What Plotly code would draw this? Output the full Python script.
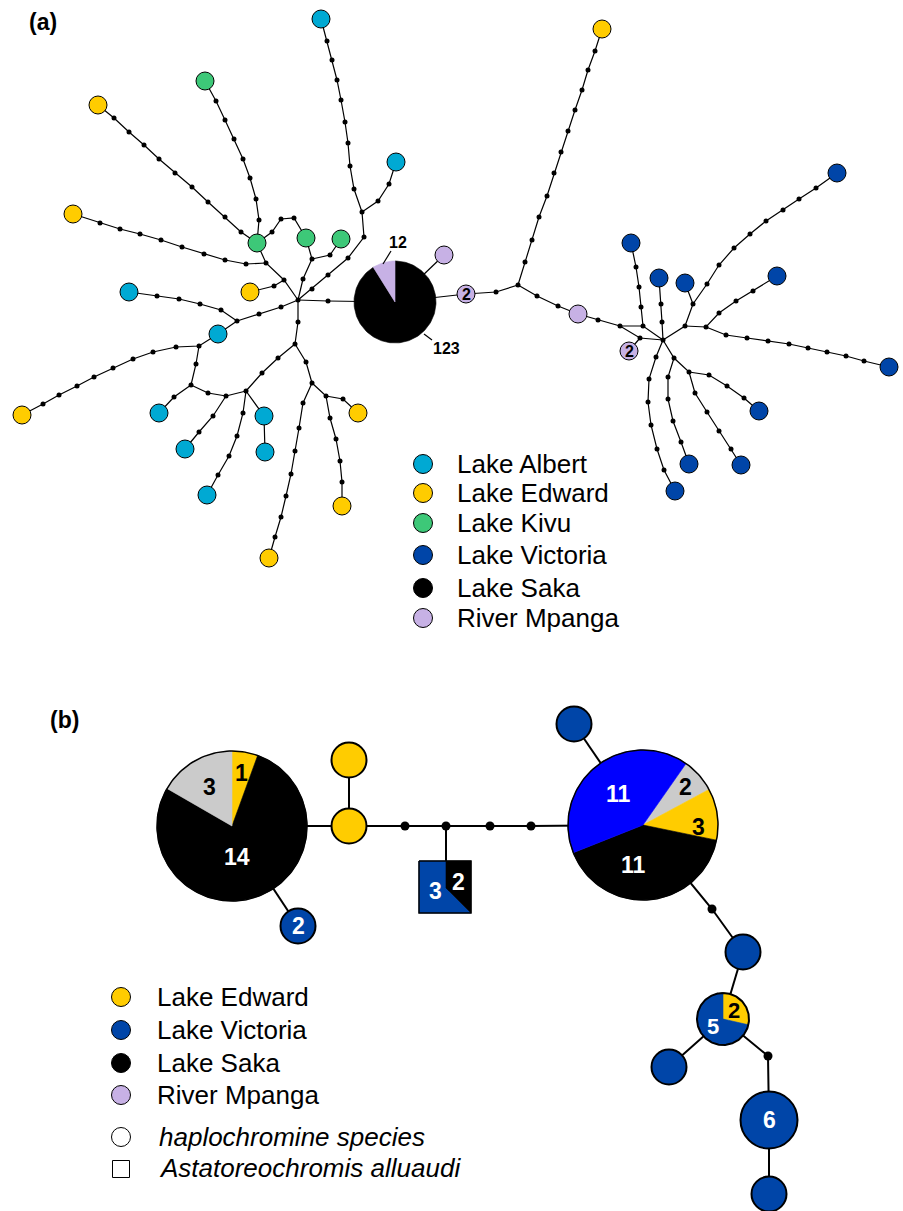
import numpy as np
import plotly.graph_objects as go

W, H = 903, 1211
FONT = "Liberation Sans, Arial, sans-serif"

COLORS = {"albert": "#00A9D3", "edward": "#FFCC00", "kivu": "#3DC878",
          "victoria": "#0045A8", "saka": "#000000", "mpanga": "#C7B1E5",
          "blue": "#0000FF", "grey": "#CBCBCB"}

# ---------------- Panel (a): haplotype network (layout positions) ----------------
a_albert = [(321, 19), (396, 162), (129, 292), (218, 334), (159, 413), (185, 449),
            (207, 495), (264, 416), (265, 452)]
a_edward = [(602, 29), (98, 105), (73, 214), (250, 292), (22, 415), (358, 413),
            (342, 506), (269, 558)]
a_kivu = [(205, 81), (257, 243), (306, 238), (341, 239)]
a_victoria = [(631, 243), (659, 278), (685, 283), (837, 173), (777, 276), (889, 367),
              (759, 411), (741, 465), (689, 464), (675, 491)]
a_mpanga = [(444, 255), (578, 314)]
a_mpanga_n2 = [(466, 294), (629, 351)]
a_mpanga_n2_labels = ["2", "2"]

a_pie_center = (395, 302)
a_pie_groups = ["saka", "mpanga"]
a_pie_counts = [123, 12]

a_paths = [
    [(321, 19), (327, 41), (332, 60), (337, 80), (341, 100), (345, 122), (348, 143), (350, 166), (354, 189), (362, 212)],
    [(396, 162), (389, 184), (378, 201), (362, 212)],
    [(362, 212), (364, 237), (348, 258), (328, 275), (312, 289), (298, 300)],
    [(341, 239), (330, 255), (312, 259)],
    [(306, 238), (312, 259)],
    [(312, 259), (303, 279), (298, 300)],
    [(205, 81), (216, 101), (225, 120), (234, 139), (243, 159), (250, 178), (256, 199), (259, 220), (257, 243)],
    [(98, 105), (114, 118), (129, 132), (144, 145), (159, 159), (175, 173), (192, 187), (208, 202), (225, 217), (241, 232), (257, 243)],
    [(257, 243), (272, 232), (281, 219), (294, 218), (306, 238)],
    [(257, 243), (266, 263), (284, 280), (298, 300)],
    [(73, 214), (100, 223), (120, 229), (140, 234), (161, 240), (182, 247), (204, 254), (225, 260), (246, 264), (266, 263)],
    [(250, 292), (274, 286), (284, 280)],
    [(129, 292), (157, 296), (179, 299), (200, 304), (221, 310), (237, 321)],
    [(237, 321), (218, 334)],
    [(237, 321), (259, 314), (281, 307), (298, 300)],
    [(298, 300), (328, 301), (395, 302)],
    [(395, 302), (444, 255)],
    [(395, 302), (466, 294)],
    [(466, 294), (496, 292), (518, 285)],
    [(602, 29), (595, 51), (588, 70), (582, 90), (575, 110), (568, 131), (561, 152), (554, 173), (547, 196), (539, 217), (532, 240), (525, 262), (518, 285)],
    [(518, 285), (537, 296), (558, 306), (578, 314)],
    [(578, 314), (598, 320), (620, 326), (640, 338), (663, 340)],
    [(620, 326), (643, 326), (663, 340)],
    [(629, 351), (640, 338)],
    [(631, 243), (636, 267), (639, 287), (641, 307), (643, 326)],
    [(659, 278), (661, 304), (662, 322), (663, 340)],
    [(837, 173), (816, 188), (799, 199), (783, 210), (766, 221), (750, 234), (734, 248), (719, 265), (707, 284), (693, 304), (685, 326), (663, 340)],
    [(685, 283), (693, 304)],
    [(777, 276), (753, 291), (736, 301), (719, 313), (706, 327), (685, 326)],
    [(706, 327), (726, 335), (747, 338), (768, 341), (789, 344), (808, 348), (827, 352), (846, 356), (864, 361), (889, 367)],
    [(663, 340), (656, 357), (649, 379), (648, 402), (651, 425), (657, 449), (664, 470), (675, 491)],
    [(663, 340), (674, 358), (689, 372), (709, 375), (727, 386), (744, 398), (759, 411)],
    [(689, 372), (695, 393), (707, 412), (719, 431), (731, 449), (741, 465)],
    [(674, 358), (668, 377), (668, 399), (673, 421), (681, 442), (689, 464)],
    [(218, 334), (199, 346), (176, 347), (153, 352), (133, 359), (113, 368), (94, 377), (77, 386), (59, 395), (43, 404), (22, 415)],
    [(199, 346), (196, 364), (191, 385)],
    [(191, 385), (174, 397), (159, 413)],
    [(191, 385), (208, 393), (226, 396), (246, 391)],
    [(298, 300), (298, 322), (295, 344)],
    [(295, 344), (278, 358), (262, 373), (246, 391)],
    [(246, 391), (264, 416), (265, 452)],
    [(246, 391), (243, 413), (237, 436), (229, 456), (218, 475), (207, 495)],
    [(226, 396), (213, 416), (199, 432), (185, 449)],
    [(295, 344), (306, 362), (312, 383)],
    [(312, 383), (303, 403), (299, 428), (295, 451), (291, 474), (286, 496), (281, 517), (275, 537), (269, 558)],
    [(312, 383), (326, 396), (343, 399), (358, 413)],
    [(326, 396), (330, 418), (336, 439), (340, 461), (342, 482), (342, 506)],
]

a_legend_labels = ["Lake Albert", "Lake Edward", "Lake Kivu", "Lake Victoria", "Lake Saka", "River Mpanga"]
a_legend_groups = ["albert", "edward", "kivu", "victoria", "saka", "mpanga"]

# ---------------- Panel (b) ----------------
b_edward = [(349, 760), (349, 826)]
b_victoria = [(574, 724), (743, 952), (669, 1067), (769, 1194)]
b_victoria_counted = [(298, 926), (769, 1120)]
b_victoria_counts = ["2", "6"]

b_pie_left_center = (232, 826)
b_pie_left_groups = ["edward", "saka", "grey"]
b_pie_left_counts = [1, 14, 3]

b_pie_right_center = (643, 825)
b_pie_right_groups = ["grey", "edward", "saka", "blue"]
b_pie_right_counts = [2, 3, 11, 11]

b_pie_small_center = (723, 1019)
b_pie_small_groups = ["edward", "victoria"]
b_pie_small_counts = [2, 5]

b_square_center = (445, 887)
b_square_groups = ["victoria", "saka"]
b_square_counts = [3, 2]

b_paths = [
    [(232, 826), (349, 826)],
    [(349, 826), (349, 760)],
    [(349, 826), (405, 826), (446, 826), (490, 826), (531, 826), (643, 825)],
    [(446, 826), (446, 887)],
    [(232, 826), (298, 926)],
    [(643, 825), (574, 724)],
    [(643, 825), (712, 909), (743, 952)],
    [(743, 952), (723, 1019)],
    [(723, 1019), (669, 1067)],
    [(723, 1019), (768, 1056), (769, 1120)],
    [(769, 1120), (769, 1194)],
]

b_legend_labels = ["Lake Edward", "Lake Victoria", "Lake Saka", "River Mpanga"]
b_legend_groups = ["edward", "victoria", "saka", "mpanga"]
b_legend_shape_labels = ["<i>haplochromine species</i>", "<i>Astatoreochromis alluaudi</i>"]

# ------------------------------------------------------------------
fig = go.Figure()
annotations = []


def add_paths(paths, width):
    xs, ys = [], []
    for p in paths:
        for (x, y) in p:
            xs.append(x)
            ys.append(y)
        xs.append(None)
        ys.append(None)
    fig.add_trace(go.Scatter(x=xs, y=ys, mode="lines", hoverinfo="skip",
                             line=dict(color="black", width=width)))


def add_dots(paths, node_set, size):
    seen, xs, ys = set(), [], []
    for p in paths:
        for pt in p:
            if pt in node_set or pt in seen:
                continue
            seen.add(pt)
            xs.append(pt[0])
            ys.append(pt[1])
    fig.add_trace(go.Scatter(x=xs, y=ys, mode="markers", hoverinfo="skip",
                             marker=dict(color="black", size=size, line=dict(width=0))))


def add_nodes(pts, color, size, lw):
    fig.add_trace(go.Scatter(x=[p[0] for p in pts], y=[p[1] for p in pts], mode="markers",
                             hoverinfo="skip",
                             marker=dict(color=color, size=size, line=dict(color="black", width=lw))))


def arc(cx, cy, r, a0, a1):
    n = max(int(abs(a1 - a0) / 2) + 2, 4)
    t = np.radians(np.linspace(a0, a1, n))
    return cx + r * np.sin(t), cy - r * np.cos(t)


def add_pie(center, r, counts, groups, start, outline):
    cx, cy = center
    total = float(sum(counts))
    a = start
    mids = []
    for c, g in zip(counts, groups):
        span = 360.0 * c / total
        ax, ay = arc(cx, cy, r, a, a + span)
        xs = [cx] + list(ax) + [cx]
        ys = [cy] + list(ay) + [cy]
        fig.add_trace(go.Scatter(x=xs, y=ys, mode="lines", fill="toself", hoverinfo="skip",
                                 fillcolor=COLORS[g], line=dict(color=COLORS[g], width=0.6)))
        mids.append(a + span / 2)
        a += span
    if outline > 0:
        ox, oy = arc(cx, cy, r, 0, 360)
        fig.add_trace(go.Scatter(x=list(ox), y=list(oy), mode="lines", hoverinfo="skip",
                                 line=dict(color="black", width=outline)))
    return mids


def label(x, y, text, size, color="black", bold=True, anchor="center"):
    t = "<b>%s</b>" % text if bold else text
    annotations.append(dict(x=x, y=y, xref="x", yref="y", text=t, showarrow=False,
                            xanchor=anchor, yanchor="middle",
                            font=dict(family=FONT, size=size, color=color)))


# ---- panel (a) ----
a_node_set = set(a_albert + a_edward + a_kivu + a_victoria + a_mpanga + a_mpanga_n2 + [a_pie_center])
add_paths(a_paths, 1.2)
add_dots(a_paths, a_node_set, 5)
add_nodes(a_albert, COLORS["albert"], 18, 1)
add_nodes(a_edward, COLORS["edward"], 18, 1)
add_nodes(a_kivu, COLORS["kivu"], 18, 1)
add_nodes(a_victoria, COLORS["victoria"], 18, 1)
add_nodes(a_mpanga, COLORS["mpanga"], 18, 1)
add_nodes(a_mpanga_n2, COLORS["mpanga"], 18, 1)
for (x, y), t in zip(a_mpanga_n2, a_mpanga_n2_labels):
    label(x, y + 0.5, t, 16)

add_pie(a_pie_center, 41, a_pie_counts, a_pie_groups, 0, 0)
# count labels with leader lines
fig.add_trace(go.Scatter(x=[383, 391, None, 424, 432], y=[264, 251, None, 334, 340], mode="lines",
                         hoverinfo="skip", line=dict(color="black", width=1.2)))
label(398, 242, str(a_pie_counts[1]), 16)
label(446, 348, str(a_pie_counts[0]), 16)

label(43, 22, "(a)", 23)

a_leg_y = [464, 493, 523, 555, 588, 618]
for g, t, y in zip(a_legend_groups, a_legend_labels, a_leg_y):
    add_nodes([(423, y)], COLORS[g], 19, 1)
    label(455, y, t, 26, bold=False, anchor="left")

# ---- panel (b) ----
b_node_set = set(b_edward + b_victoria + b_victoria_counted +
                 [b_pie_left_center, b_pie_right_center, b_pie_small_center, b_square_center])
add_paths(b_paths, 2)
add_dots(b_paths, b_node_set, 9)

# square node (Astatoreochromis alluaudi), split by haplotype share
sx, sy = b_square_center
hs = 26
sq_blue_x = [sx - hs, sx + 1, sx + 1, sx + hs, sx - hs, sx - hs]
sq_blue_y = [sy - hs, sy - hs, sy + 1, sy + hs, sy + hs, sy - hs]
sq_black_x = [sx + 1, sx + hs, sx + hs, sx + 1, sx + 1]
sq_black_y = [sy - hs, sy - hs, sy + hs, sy + 1, sy - hs]
fig.add_trace(go.Scatter(x=sq_blue_x, y=sq_blue_y, mode="lines", fill="toself", hoverinfo="skip",
                         fillcolor=COLORS[b_square_groups[0]], line=dict(color=COLORS[b_square_groups[0]], width=0.6)))
fig.add_trace(go.Scatter(x=sq_black_x, y=sq_black_y, mode="lines", fill="toself", hoverinfo="skip",
                         fillcolor=COLORS[b_square_groups[1]], line=dict(color=COLORS[b_square_groups[1]], width=0.6)))
fig.add_trace(go.Scatter(x=[sx - hs, sx + hs, sx + hs, sx - hs, sx - hs],
                         y=[sy - hs, sy - hs, sy + hs, sy + hs, sy - hs], mode="lines", hoverinfo="skip",
                         line=dict(color="black", width=1.5)))
label(sx - 10, sy + 4, str(b_square_counts[0]), 23, color="white")
label(sx + 13, sy - 5, str(b_square_counts[1]), 23, color="white")

add_nodes(b_edward, COLORS["edward"], 35, 2)
add_nodes(b_victoria, COLORS["victoria"], 35, 2)
add_nodes([b_victoria_counted[0]], COLORS["victoria"], 35, 2)
add_nodes([b_victoria_counted[1]], COLORS["victoria"], 57, 2)
for (x, y), t in zip(b_victoria_counted, b_victoria_counts):
    label(x, y, t, 23, color="white")

R = 75
mids = add_pie(b_pie_left_center, R, b_pie_left_counts, b_pie_left_groups, 0, 1.5)
cx, cy = b_pie_left_center
for m, c, f, col, dm in zip(mids, b_pie_left_counts, [0.72, 0.42, 0.6], ["black", "white", "black"], [0, 10, 0]):
    a = np.radians(m + dm)
    label(cx + f * R * np.sin(a), cy - f * R * np.cos(a), str(c), 23, color=col)

mids = add_pie(b_pie_right_center, R, b_pie_right_counts, b_pie_right_groups, 35, 1.5)
cx, cy = b_pie_right_center
for m, c, f, col, dm in zip(mids, b_pie_right_counts, [0.76, 0.74, 0.55, 0.53],
                            ["black", "black", "white", "white"], [0, 10, 18, 0]):
    a = np.radians(m + dm)
    label(cx + f * R * np.sin(a), cy - f * R * np.cos(a), str(c), 23, color=col)

r_small = 26
mids = add_pie(b_pie_small_center, r_small, b_pie_small_counts, b_pie_small_groups, 0, 2)
cx, cy = b_pie_small_center
for m, c, f, col in zip(mids, b_pie_small_counts, [0.55, 0.48], ["black", "white"]):
    a = np.radians(m)
    label(cx + f * r_small * np.sin(a), cy - f * r_small * np.cos(a), str(c), 22, color=col)

label(64, 720, "(b)", 23)

b_leg_y = [997, 1030, 1063, 1095]
for g, t, y in zip(b_legend_groups, b_legend_labels, b_leg_y):
    add_nodes([(121, y)], COLORS[g], 19, 1)
    label(155, y, t, 26, bold=False, anchor="left")
fig.add_trace(go.Scatter(x=[121], y=[1137], mode="markers", hoverinfo="skip",
                         marker=dict(symbol="circle", size=19, color="white", line=dict(color="black", width=1))))
fig.add_trace(go.Scatter(x=[121], y=[1169], mode="markers", hoverinfo="skip",
                         marker=dict(symbol="square", size=17, color="white", line=dict(color="black", width=1))))
label(157, 1137, b_legend_shape_labels[0], 26, bold=False, anchor="left")
label(157, 1168, b_legend_shape_labels[1], 26, bold=False, anchor="left")

fig.update_layout(
    width=W, height=H, margin=dict(l=0, r=0, t=0, b=0),
    paper_bgcolor="white", plot_bgcolor="white", showlegend=False,
    xaxis=dict(range=[0, W], visible=False, fixedrange=True),
    yaxis=dict(range=[H, 0], visible=False, fixedrange=True),
    annotations=annotations,
)
fig.write_html("out.html", config={"displayModeBar": False, "staticPlot": True},
               post_script="document.body.style.margin='0';document.body.style.overflow='hidden';")
